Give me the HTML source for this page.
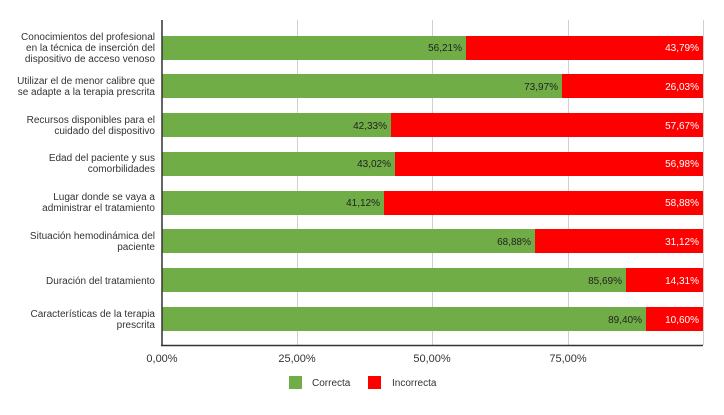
<!DOCTYPE html>
<html><head><meta charset="utf-8"><style>
body{margin:0;background:#fff;}
</style></head><body>
<svg width="724" height="410" xmlns="http://www.w3.org/2000/svg" font-family="Liberation Sans, sans-serif">
<rect width="724" height="410" fill="#fff"/>
<g stroke="#d0d0d0" stroke-width="1">
<line x1="297.5" y1="20" x2="297.5" y2="345"/>
<line x1="432.5" y1="20" x2="432.5" y2="345"/>
<line x1="568.5" y1="20" x2="568.5" y2="345"/>
<line x1="703.5" y1="20" x2="703.5" y2="345"/>
</g>
<g font-size="10">
<!-- bars -->
<g id="b">
</g>
</g>
<g font-size="10" text-anchor="end" fill="#222">
<rect x="162" y="36" width="304" height="24" fill="#70ad47"/><rect x="466" y="36" width="237" height="24" fill="#ff0000"/>
<text x="462" y="51">56,21%</text><text x="699" y="51" fill="#fff">43,79%</text>
<rect x="162" y="74" width="400" height="24" fill="#70ad47"/><rect x="562" y="74" width="141" height="24" fill="#ff0000"/>
<text x="558" y="90">73,97%</text><text x="699" y="90" fill="#fff">26,03%</text>
<rect x="162" y="113" width="229" height="24" fill="#70ad47"/><rect x="391" y="113" width="312" height="24" fill="#ff0000"/>
<text x="387" y="129">42,33%</text><text x="699" y="129" fill="#fff">57,67%</text>
<rect x="162" y="152" width="233" height="24" fill="#70ad47"/><rect x="395" y="152" width="308" height="24" fill="#ff0000"/>
<text x="391" y="167">43,02%</text><text x="699" y="167" fill="#fff">56,98%</text>
<rect x="162" y="191" width="222" height="24" fill="#70ad47"/><rect x="384" y="191" width="319" height="24" fill="#ff0000"/>
<text x="380" y="206">41,12%</text><text x="699" y="206" fill="#fff">58,88%</text>
<rect x="162" y="229" width="373" height="24" fill="#70ad47"/><rect x="535" y="229" width="168" height="24" fill="#ff0000"/>
<text x="531" y="245">68,88%</text><text x="699" y="245" fill="#fff">31,12%</text>
<rect x="162" y="268" width="464" height="24" fill="#70ad47"/><rect x="626" y="268" width="77" height="24" fill="#ff0000"/>
<text x="622" y="284">85,69%</text><text x="699" y="284" fill="#fff">14,31%</text>
<rect x="162" y="307" width="484" height="24" fill="#70ad47"/><rect x="646" y="307" width="57" height="24" fill="#ff0000"/>
<text x="642" y="323">89,40%</text><text x="699" y="323" fill="#fff">10,60%</text>
</g>
<line x1="162" y1="20" x2="162" y2="346" stroke="#333" stroke-width="1.5"/>
<line x1="161" y1="345.5" x2="703" y2="345.5" stroke="#333" stroke-width="1.5"/>
<g font-size="10" text-anchor="end" fill="#333">
<text x="155" y="40">Conocimientos del profesional</text>
<text x="155" y="51">en la técnica de inserción del</text>
<text x="155" y="62">dispositivo de acceso venoso</text>
<text x="155" y="84">Utilizar el de menor calibre que</text>
<text x="155" y="95">se adapte a la terapia prescrita</text>
<text x="155" y="123">Recursos disponibles para el</text>
<text x="155" y="134">cuidado del dispositivo</text>
<text x="155" y="161">Edad del paciente y sus</text>
<text x="155" y="172">comorbilidades</text>
<text x="155" y="200">Lugar donde se vaya a</text>
<text x="155" y="211">administrar el tratamiento</text>
<text x="155" y="239">Situación hemodinámica del</text>
<text x="155" y="250">paciente</text>
<text x="155" y="284">Duración del tratamiento</text>
<text x="155" y="317">Características de la terapia</text>
<text x="155" y="328">prescrita</text>
</g>
<g font-size="11" text-anchor="middle" fill="#333">
<text x="162" y="362">0,00%</text>
<text x="297" y="362">25,00%</text>
<text x="432" y="362">50,00%</text>
<text x="568" y="362">75,00%</text>
</g>
<rect x="289" y="376" width="13" height="13" fill="#70ad47"/>
<text x="312" y="386" font-size="10" fill="#333">Correcta</text>
<rect x="368" y="376" width="13" height="13" fill="#ff0000"/>
<text x="392" y="386" font-size="10" fill="#333">Incorrecta</text>
</svg>
</body></html>
